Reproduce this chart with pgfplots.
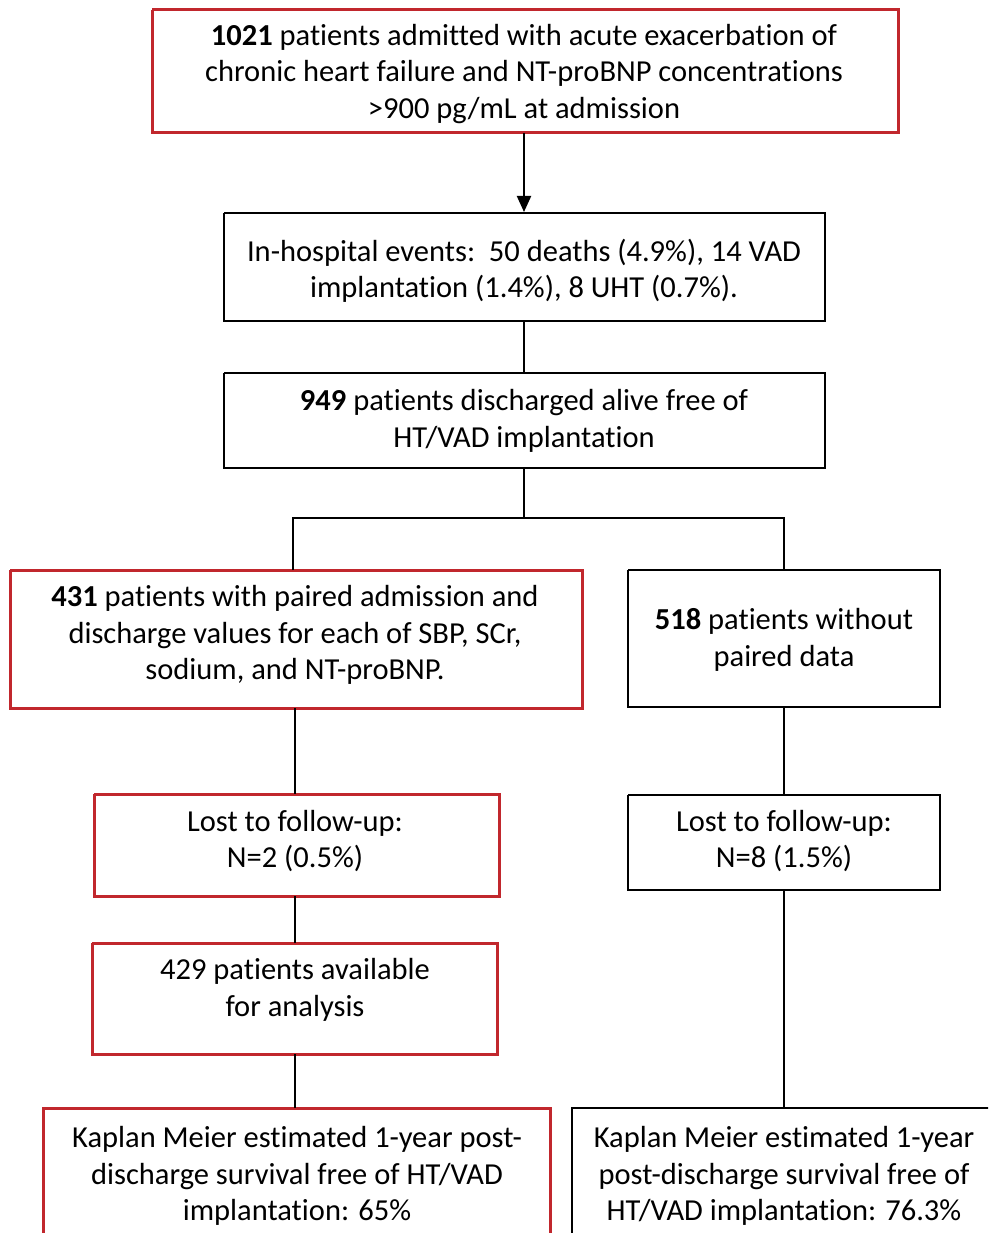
\documentclass[border=0pt]{standalone}
\usepackage{pgfplots}
\pgfplotsset{compat=1.18}
\usepackage{fontspec}
\setmainfont{Carlito}[Ligatures=NoCommon]
\usetikzlibrary{arrows.meta}
\definecolor{boxred}{HTML}{C1272D}
\tikzset{txt/.style={font=\fontsize{30.5}{36.5}\selectfont,align=center,inner sep=0pt,text=black}}
\begin{document}
\begin{tikzpicture}
\begin{axis}[x=1pt,y=1pt,xmin=0,xmax=988,ymin=0,ymax=1233,y dir=reverse,
  hide axis,clip=true]
% frame for bounding box
\addplot[draw=none] coordinates {(0,0) (988,1233)};
% boxes
\addplot[boxred,line width=3pt] coordinates {(152,10) (898,10) (898,133) (152,133) (152,10)};
\addplot[black,line width=2.2pt] coordinates {(224,213) (825,213) (825,321) (224,321) (224,213)};
\addplot[black,line width=2.2pt] coordinates {(224,373) (825,373) (825,468) (224,468) (224,373)};
\addplot[boxred,line width=3pt] coordinates {(10,570) (582,570) (582,708) (10,708) (10,570)};
\addplot[black,line width=2.2pt] coordinates {(628,570) (940,570) (940,707) (628,707) (628,570)};
\addplot[boxred,line width=3pt] coordinates {(94,794) (499,794) (499,896) (94,896) (94,794)};
\addplot[black,line width=2.2pt] coordinates {(628,795) (940,795) (940,890) (628,890) (628,795)};
\addplot[boxred,line width=3pt] coordinates {(92,943) (497,943) (497,1054) (92,1054) (92,943)};
\addplot[boxred,line width=3pt] coordinates {(43,1250) (43,1108) (550,1108) (550,1250)};
\addplot[black,line width=2.2pt] coordinates {(572,1250) (572,1108) (1000,1108)};
% connectors
\addplot[black,line width=2pt,-{Triangle[length=16pt,width=14pt]}] coordinates {(524,133) (524,212)};
\addplot[black,line width=2pt] coordinates {(524,321) (524,373)};
\addplot[black,line width=2pt] coordinates {(524,468) (524,518)};
\addplot[black,line width=2pt] coordinates {(293,570) (293,518) (784,518) (784,570)};
\addplot[black,line width=2pt] coordinates {(295,708) (295,794)};
\addplot[black,line width=2pt] coordinates {(784,707) (784,795)};
\addplot[black,line width=2pt] coordinates {(295,896) (295,943)};
\addplot[black,line width=2pt] coordinates {(295,1054) (295,1108)};
\addplot[black,line width=2pt] coordinates {(784,890) (784,1108)};
\end{axis}
\begin{axis}[x=1pt,y=1pt,xmin=0,xmax=988,ymin=0,ymax=1233,y dir=reverse,
  hide axis,clip=false]
\node[txt] at (axis cs:524,74) {\textbf{1021} patients admitted with acute exacerbation of\\chronic heart failure and NT-proBNP concentrations\\>900 pg/mL at admission};
\node[txt] at (axis cs:524,271) {In-hospital events:\ \ 50 deaths (4.9\%), 14 VAD\\implantation (1.4\%), 8 UHT (0.7\%).};
\node[txt] at (axis cs:524,421) {\textbf{949} patients discharged alive free of\\HT/VAD implantation};
\node[txt] at (axis cs:295,635) {\textbf{431} patients with paired admission and\\discharge values for each of SBP, SCr,\\sodium, and NT-proBNP.};
\node[txt] at (axis cs:784,640) {\textbf{518} patients without\\paired data};
\node[txt] at (axis cs:295,841) {Lost to follow-up:\\N=2 (0.5\%)};
\node[txt] at (axis cs:784,841) {Lost to follow-up:\\N=8 (1.5\%)};
\node[txt] at (axis cs:295,990) {429 patients available\\for analysis};
\node[txt] at (axis cs:297,1176) {Kaplan Meier estimated 1-year post-\\discharge survival free of HT/VAD\\implantation: 65\%};
\node[txt] at (axis cs:784,1176) {Kaplan Meier estimated 1-year\\post-discharge survival free of\\HT/VAD implantation: 76.3\%};
\end{axis}
\end{tikzpicture}
\end{document}
